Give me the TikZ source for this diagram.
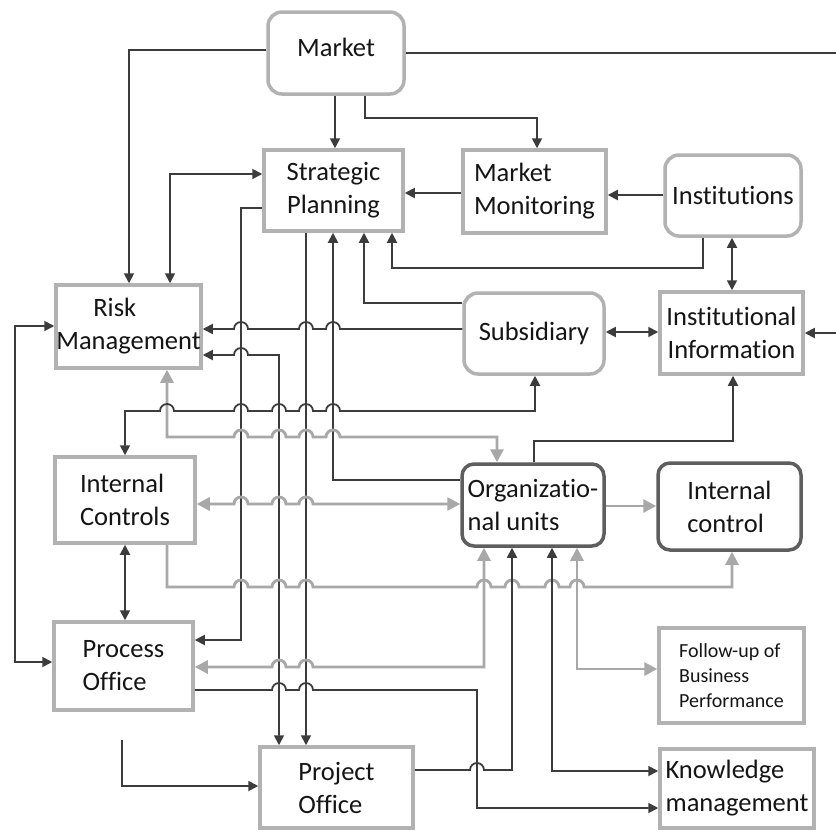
\documentclass[tikz,border=0pt]{standalone}
\usepackage{fontspec}
\setmainfont{Carlito}[Ligatures={NoCommon,NoContextual,NoRare},Contextuals={NoAlternate}]
\usetikzlibrary{arrows.meta}

\definecolor{dk}{HTML}{3C3C3C}
\definecolor{lt}{HTML}{A8A8A8}
\definecolor{bx}{HTML}{B2B2B2}
\definecolor{bxd}{HTML}{5E5E5E}
\definecolor{txt}{HTML}{151515}

% line segment ending in a semicircular hop over a vertical line at x=#1
\newcommand\jumpR[2]{-- (#1-7,#2) arc[start angle=180,end angle=0,radius=7pt]}
\newcommand\jumpL[2]{-- (#1+7,#2) arc[start angle=0,end angle=180,radius=7pt]}

\tikzset{
  boxbase/.style={line width=3.5pt, fill=white, inner sep=0pt, text=txt,
    font=\fontsize{26.5}{33}\selectfont},
  plainbox/.style={boxbase, draw=bx},
  roundbox/.style={boxbase, draw=bx, rounded corners=14pt},
  darkbox/.style={boxbase, draw=bxd, rounded corners=12pt},
  dline/.style={draw=dk, line width=1.8pt},
  gline/.style={draw=lt, line width=2.8pt},
  darr/.style={dline, -{Triangle[length=10pt,width=10pt]}},
  ddarr/.style={dline, {Triangle[length=10pt,width=10pt]}-{Triangle[length=10pt,width=10pt]}},
  garr/.style={gline, -{Triangle[length=13pt,width=13pt]}},
  ggarr/.style={gline, {Triangle[length=13pt,width=13pt]}-{Triangle[length=13pt,width=13pt]}},
}

\begin{document}
\begin{tikzpicture}[x=1pt, y=-1pt]
\fill[white] (0,0) rectangle (836,833);
\useasboundingbox (0,0) rectangle (836,833);

% boxes
\node[roundbox, minimum width=136pt, minimum height=82pt, text depth=12pt] (mkt) at (336,53) {Market};
\node[plainbox, minimum width=139pt, minimum height=81pt, align=center] (sp) at (333.5,190.5) {Strategic\\Planning};
\node[plainbox, minimum width=143pt, minimum height=83pt, align=left] (mm) at (534.5,191.5) {Market\\Monitoring};
\node[roundbox, minimum width=136pt, minimum height=81pt] (inst) at (733,195.5) {Institutions};
\node[plainbox, minimum width=145pt, minimum height=83pt, align=left] (rm) at (128.5,326.5) {\hspace*{37pt}Risk\\Management};
\node[roundbox, minimum width=140pt, minimum height=81pt] (sub) at (534,333.5) {Subsidiary};
\node[plainbox, minimum width=143pt, minimum height=82pt, align=center] (ii) at (731.5,333) {Institutional\\Information};
\node[plainbox, minimum width=140pt, minimum height=86pt, align=left] (ic) at (125,500) {Internal\\Controls};
\node[darkbox, minimum width=142pt, minimum height=82pt, align=left] (org) at (533,505) {Organizatio-\\nal units};
\node[darkbox, minimum width=143pt, minimum height=87pt, align=left] (icl) at (729.5,506.5) {Internal\\control};
\node[plainbox, minimum width=139pt, minimum height=88pt, align=left] (po) at (123.5,666) {Process\\Office};
\node[plainbox, minimum width=153pt, minimum height=81pt, align=left] (pro) at (336.5,787.5) {Project\\Office};
\node[plainbox, minimum width=145pt, minimum height=95pt, align=left, font=\fontsize{20}{25}\selectfont] (fu) at (731.5,675.5) {Follow-up of\\Business\\Performance};
\node[plainbox, minimum width=154pt, minimum height=79pt, align=left] (km) at (737,788.5) {Knowledge\\management};

% loose ends at the margins
\coordinate (mktout) at (836,53);
\coordinate (iiin) at (836,333);
\coordinate (pofree) at (122,740);

% Market
\draw[dline] (mkt.east |- 0,53) -- (mktout);
\draw[darr] (mkt.west |- 0,50) -| (rm.north -| 129,0);
\draw[darr] (mkt.south -| 335,0) -- (sp.north -| 335,0);
\draw[darr] (mkt.south -| 365,0) |- (537,118) -- (mm.north -| 537,0);

% Strategic Planning
\draw[ddarr] (sp.west |- 0,174) -| (rm.north -| 170,0);
\draw[darr] (sp.west |- 0,208) -- (241,208) |- (po.east |- 0,640);
\draw[darr] (mm.west |- 0,193) -- (sp.east |- 0,193);
\draw[darr] (inst.west |- 0,195) -- (mm.east |- 0,195);
\draw[darr] (inst.south -| 703,0) |- (392,268) -- (sp.south -| 392,0);
\draw[ddarr] (inst.south -| 732,0) -- (ii.north -| 732,0);
\draw[darr] (sub.west |- 0,303) -| (sp.south -| 364,0);
\draw[darr] (sp.south -| 306,0) -- (pro.north -| 306,0);
\draw[darr] (org.west |- 0,480) -| (sp.south -| 333,0);

% Risk Management
\draw[darr] (sub.west |- 0,329) \jumpL{333}{329} \jumpL{306}{329} \jumpL{241}{329} -- (rm.east |- 0,329);
\draw[ddarr] (rm.east |- 0,355) \jumpR{241}{355} -- (279,355) -- (pro.north -| 279,0);
\draw[ddarr] (rm.west |- 0,326) -- (15,326) -- (15,662) -- (po.west |- 0,662);
\draw[ggarr] (rm.south -| 167,0) -- (167,437) \jumpR{241}{437} \jumpR{279}{437} \jumpR{306}{437} \jumpR{333}{437} -- (497,437) -- (org.north -| 497,0);

% Internal Controls
\draw[ddarr] (ic.north -| 125,0) -- (125,411) \jumpR{167}{411} \jumpR{241}{411} \jumpR{279}{411} \jumpR{306}{411} \jumpR{333}{411} -- (535,411) -- (sub.south -| 535,0);
\draw[ggarr] (ic.east |- 0,504) \jumpR{241}{504} \jumpR{279}{504} \jumpR{306}{504} -- (org.west |- 0,504);
\draw[ddarr] (ic.south -| 125,0) -- (po.north -| 125,0);
\draw[garr] (ic.south -| 167,0) -- (167,587) \jumpR{241}{587} \jumpR{279}{587} \jumpR{306}{587} \jumpR{484}{587} \jumpR{512}{587} \jumpR{552}{587} \jumpR{577}{587} -- (732,587) -- (icl.south -| 732,0);

% right-hand side
\draw[ddarr] (sub.east |- 0,332) -- (ii.west |- 0,332);
\draw[darr] (iiin) -- (ii.east |- 0,333);
\draw[darr] (org.north -| 534,0) |- (733,441) -- (ii.south -| 733,0);
\draw[garr] (org.east |- 0,506) -- (icl.west |- 0,506);

% below Organizational units
\draw[ggarr] (org.south -| 484,0) -- (484,667) \jumpL{306}{667} \jumpL{279}{667} -- (po.east |- 0,667);
\draw[darr] (pro.east |- 0,770) \jumpR{477}{770} -- (512,770) -- (org.south -| 512,0);
\draw[ddarr] (org.south -| 552,0) |- (km.west |- 0,771);
\draw[ggarr] (org.south -| 577,0) |- (fu.west |- 0,669);
\draw[darr] (po.east |- 0,690) \jumpR{279}{690} \jumpR{306}{690} -- (477,690) |- (km.west |- 0,808);
\draw[darr] (pofree) |- (pro.west |- 0,786);
\end{tikzpicture}
\end{document}
